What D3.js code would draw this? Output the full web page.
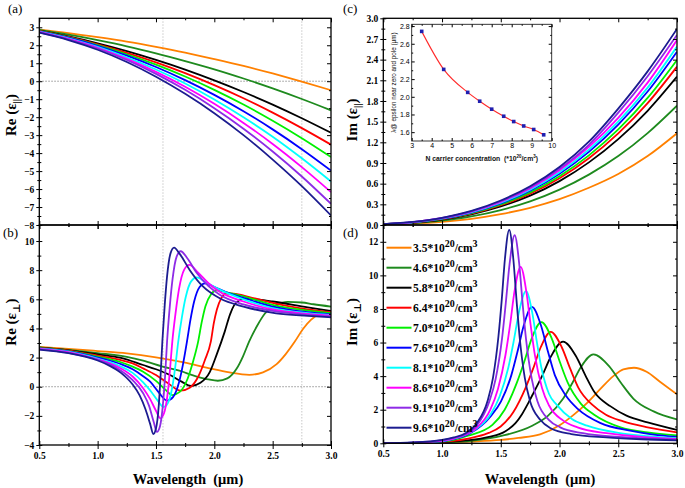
<!DOCTYPE html>
<html><head><meta charset="utf-8">
<script src="https://cdn.jsdelivr.net/npm/d3@7"></script>
<style>body{margin:0;background:#fff}svg{display:block}
.serif{font-family:"Liberation Serif","Times New Roman","DejaVu Serif",serif}
.sans{font-family:"Liberation Sans",Arial,"DejaVu Sans",sans-serif}</style>
</head><body><svg id="chart" width="685" height="488"></svg>
<script>
// ---------------- DATA ----------------
const concentrations = ["3.5","4.6","5.8","6.4","7.0","7.6","8.1","8.6","9.1","9.6"];
const seriesColors = ["#FF8000","#1E8A1E","#000000","#FF0000","#00F000","#0000FF","#00FFFF","#FF00FF","#8E2BE6","#1C1C90"];
const wavelengthTicks = [0.5,1.0,1.5,2.0,2.5,3.0];
const wavelengthMinor = [0.75,1.25,1.75,2.25,2.75];
const ticksA = [-8,-7,-6,-5,-4,-3,-2,-1,0,1,2,3];
const ticksB = [-4,-2,0,2,4,6,8,10];
const ticksC = [0.0,0.3,0.6,0.9,1.2,1.5,1.8,2.1,2.4,2.7,3.0];
const ticksD = [0,2,4,6,8,10,12];
const markerWavelengths = [1.56, 2.75];

// panel (a) and (c): common wavelength grid
const lambdaGrid = [0.5,0.75,1.0,1.25,1.5,1.75,2.0,2.25,2.5,2.75,3.0];
const reParallel = [
 [2.87,2.68,2.45,2.20,1.91,1.59,1.23,0.85,0.43,-0.02,-0.50],
 [2.85,2.59,2.28,1.94,1.55,1.12,0.66,0.15,-0.40,-0.99,-1.62],
 [2.82,2.49,2.11,1.68,1.19,0.65,0.05,-0.60,-1.30,-2.06,-2.87],
 [2.80,2.46,2.05,1.58,1.05,0.45,-0.22,-0.95,-1.75,-2.61,-3.53],
 [2.79,2.44,2.01,1.50,0.92,0.26,-0.48,-1.30,-2.20,-3.17,-4.22],
 [2.77,2.42,1.97,1.42,0.79,0.06,-0.76,-1.67,-2.68,-3.78,-4.97],
 [2.76,2.39,1.91,1.33,0.65,-0.13,-1.02,-2.01,-3.09,-4.29,-5.58],
 [2.74,2.35,1.86,1.24,0.52,-0.31,-1.26,-2.32,-3.49,-4.78,-6.17],
 [2.72,2.33,1.82,1.18,0.41,-0.48,-1.50,-2.64,-3.91,-5.30,-6.82],
 [2.70,2.29,1.75,1.07,0.25,-0.70,-1.78,-3.00,-4.36,-5.84,-7.47]
];
const imParallel = [
 [0.006,0.020,0.046,0.090,0.158,0.250,0.375,0.540,0.740,1.000,1.331],
 [0.008,0.027,0.064,0.125,0.217,0.343,0.513,0.731,1.000,1.334,1.732],
 [0.010,0.034,0.080,0.155,0.269,0.426,0.637,0.909,1.247,1.658,2.153],
 [0.011,0.036,0.085,0.165,0.287,0.455,0.680,0.970,1.331,1.769,2.298],
 [0.011,0.037,0.089,0.172,0.299,0.474,0.709,1.011,1.387,1.844,2.395],
 [0.012,0.039,0.093,0.181,0.315,0.498,0.745,1.062,1.457,1.937,2.516],
 [0.012,0.040,0.096,0.186,0.324,0.513,0.767,1.093,1.500,1.994,2.590],
 [0.012,0.042,0.099,0.193,0.336,0.532,0.795,1.133,1.555,2.067,2.685],
 [0.013,0.043,0.102,0.199,0.345,0.546,0.816,1.164,1.630,2.160,2.758],
 [0.013,0.044,0.105,0.205,0.356,0.563,0.842,1.210,1.690,2.230,2.845]
];
// panel (b): [wavelength, Re(eps_perp)]
const rePerp = [
 [[0.5,2.73],[0.75,2.6],[1.0,2.45],[1.25,2.29],[1.5,2.02],[1.75,1.65],[1.95,1.28],[2.13,0.98],[2.3,0.82],[2.417,0.99],[2.534,1.55],[2.612,2.24],[2.69,3.1],[2.76,3.96],[2.83,4.6],[2.935,5.05],[3.0,5.12]],
 [[0.5,2.7],[0.75,2.53],[1.0,2.31],[1.25,2.05],[1.39,1.79],[1.55,1.4],[1.7,1.1],[1.85,0.7],[1.95,0.5],[2.03,0.41],[2.111,0.57],[2.192,1.25],[2.246,2.09],[2.3,3.13],[2.366,4.17],[2.432,5.01],[2.531,5.6],[2.63,5.82],[2.75,5.78],[2.85,5.66],[3.0,5.5]],
 [[0.5,2.68],[0.75,2.5],[1.0,2.22],[1.2,1.98],[1.39,1.49],[1.5,1.2],[1.62,0.8],[1.72,0.35],[1.8,0.05],[1.881,0.27],[1.962,1.02],[2.02,2.2],[2.09,3.8],[2.134,4.95],[2.17,5.6],[2.22,5.95],[2.28,6.05],[2.385,5.98],[2.5,5.85],[2.8,5.45],[3.0,5.2]],
 [[0.5,2.66],[0.75,2.48],[1.0,2.13],[1.2,1.83],[1.3,1.6],[1.39,1.26],[1.5,0.8],[1.6,0.25],[1.712,-0.27],[1.789,-0.07],[1.867,0.77],[1.918,1.8],[1.97,3.09],[1.996,4.38],[2.022,5.3],[2.061,6.1],[2.1,6.4],[2.165,6.38],[2.3,6.15],[2.5,5.75],[2.8,5.3],[3.0,5.12]],
 [[0.5,2.65],[0.75,2.45],[1.0,2.07],[1.2,1.68],[1.3,1.38],[1.39,1.03],[1.5,0.4],[1.58,-0.2],[1.637,-0.57],[1.704,-0.35],[1.771,0.55],[1.815,1.65],[1.86,3.04],[1.892,4.43],[1.924,5.53],[1.972,6.35],[2.02,6.62],[2.1,6.5],[2.25,6.2],[2.5,5.62],[2.8,5.22],[3.0,5.05]],
 [[0.5,2.63],[0.75,2.42],[1.0,2.0],[1.1,1.8],[1.2,1.55],[1.3,1.2],[1.39,0.72],[1.45,0.35],[1.52,-0.35],[1.595,-0.95],[1.646,-0.71],[1.697,0.29],[1.731,1.52],[1.765,3.07],[1.796,4.62],[1.827,5.85],[1.874,6.85],[1.92,7.1],[1.998,6.85],[2.1,6.5],[2.25,6.1],[2.5,5.5],[2.8,5.12],[3.0,4.97]],
 [[0.5,2.62],[0.75,2.4],[1.0,1.93],[1.1,1.7],[1.2,1.38],[1.3,0.95],[1.39,0.3],[1.45,-0.25],[1.51,-0.9],[1.565,-1.4],[1.602,-1.13],[1.64,-0.02],[1.665,1.34],[1.69,3.05],[1.722,4.76],[1.754,6.12],[1.801,7.23],[1.849,7.5],[1.93,7.15],[2.05,6.65],[2.25,6.0],[2.5,5.4],[2.8,5.05],[3.0,4.92]],
 [[0.5,2.6],[0.75,2.37],[1.0,1.88],[1.1,1.62],[1.2,1.25],[1.3,0.7],[1.39,-0.1],[1.45,-0.85],[1.5,-1.65],[1.537,-2.17],[1.568,-1.84],[1.599,-0.53],[1.619,1.08],[1.64,3.1],[1.669,5.12],[1.698,6.73],[1.742,8.04],[1.786,8.36],[1.859,7.85],[1.95,7.1],[2.05,6.5],[2.25,5.85],[2.5,5.3],[2.8,5.0],[3.0,4.87]],
 [[0.5,2.57],[0.75,2.33],[1.0,1.85],[1.1,1.55],[1.2,1.1],[1.3,0.45],[1.39,-0.45],[1.44,-1.3],[1.48,-2.4],[1.508,-3.1],[1.534,-2.73],[1.56,-1.18],[1.578,0.72],[1.595,3.1],[1.618,5.48],[1.642,7.38],[1.677,8.93],[1.712,9.3],[1.77,8.8],[1.85,7.8],[1.95,6.9],[2.05,6.3],[2.25,5.65],[2.5,5.2],[2.8,4.93],[3.0,4.82]],
 [[0.5,2.55],[0.75,2.3],[1.0,1.8],[1.1,1.45],[1.2,0.95],[1.3,0.15],[1.36,-0.6],[1.41,-1.55],[1.45,-2.55],[1.477,-3.25],[1.5,-2.87],[1.524,-1.27],[1.539,0.69],[1.555,3.15],[1.575,5.61],[1.595,7.57],[1.625,9.17],[1.655,9.55],[1.705,9.1],[1.79,8.0],[1.9,6.9],[2.05,6.05],[2.25,5.5],[2.53,5.04],[2.8,4.86],[3.0,4.76]]
];
// panel (d): [wavelength, Im(eps_perp)]
const imPerp = [
 [[0.5,0.01],[0.75,0.01],[1.0,0.04],[1.25,0.1],[1.5,0.2],[1.65,0.32],[1.834,0.53],[2.004,1.09],[2.117,1.68],[2.231,2.38],[2.344,3.21],[2.458,4.0],[2.543,4.4],[2.634,4.5],[2.741,4.26],[2.855,3.67],[3.0,2.91]],
 [[0.5,0.01],[0.75,0.015],[1.0,0.05],[1.25,0.15],[1.514,0.45],[1.772,1.06],[1.901,1.63],[2.03,2.65],[2.107,3.56],[2.185,4.57],[2.288,5.3],[2.425,4.57],[2.527,3.56],[2.63,2.65],[2.801,1.9],[3.0,1.42]],
 [[0.5,0.01],[0.75,0.02],[1.0,0.07],[1.2,0.17],[1.4,0.38],[1.54,0.72],[1.625,1.2],[1.682,1.75],[1.738,2.45],[1.78,3.02],[1.855,4.06],[1.93,5.21],[2.03,6.05],[2.138,5.21],[2.219,4.06],[2.3,3.02],[2.435,2.2],[2.57,1.65],[2.75,1.25],[3.0,0.8]],
 [[0.5,0.01],[0.75,0.02],[1.0,0.08],[1.286,0.38],[1.398,0.62],[1.499,1.0],[1.606,1.85],[1.712,3.32],[1.776,4.46],[1.84,5.72],[1.925,6.64],[2.019,5.72],[2.09,4.46],[2.16,3.32],[2.278,2.3],[2.395,1.7],[2.543,1.3],[2.75,0.95],[3.0,0.65]],
 [[0.5,0.01],[0.75,0.025],[1.0,0.1],[1.221,0.45],[1.429,1.1],[1.533,2.0],[1.637,3.61],[1.699,4.84],[1.762,6.22],[1.845,7.22],[1.935,6.22],[2.003,4.84],[2.07,3.61],[2.183,2.35],[2.295,1.7],[2.52,0.95],[2.75,0.65],[3.0,0.47]],
 [[0.5,0.01],[0.75,0.03],[1.0,0.12],[1.065,0.2],[1.24,0.6],[1.415,1.62],[1.502,2.5],[1.59,4.06],[1.642,5.45],[1.695,7.0],[1.765,8.12],[1.843,7.0],[1.902,5.45],[1.96,4.06],[2.058,2.8],[2.155,2.05],[2.35,1.2],[2.6,0.75],[2.8,0.52],[3.0,0.38]],
 [[0.5,0.01],[0.75,0.035],[1.0,0.13],[1.115,0.3],[1.265,0.75],[1.415,1.75],[1.49,2.79],[1.565,4.53],[1.61,6.08],[1.655,7.81],[1.715,9.06],[1.767,7.81],[1.806,6.08],[1.845,4.53],[1.91,2.95],[1.975,2.3],[2.105,1.45],[2.235,1.05],[2.5,0.62],[2.75,0.42],[3.0,0.3]],
 [[0.5,0.01],[0.75,0.04],[1.0,0.15],[1.153,0.4],[1.282,0.85],[1.411,2.0],[1.476,3.24],[1.54,5.26],[1.579,7.05],[1.617,9.06],[1.669,10.51],[1.717,9.06],[1.754,7.05],[1.79,5.26],[1.851,3.3],[1.911,2.25],[2.032,1.35],[2.153,0.95],[2.4,0.6],[2.7,0.38],[3.0,0.26]],
 [[0.5,0.01],[0.75,0.045],[1.0,0.17],[1.1,0.32],[1.186,0.5],[1.294,1.05],[1.402,2.48],[1.456,3.82],[1.51,6.2],[1.542,8.31],[1.575,10.68],[1.618,12.39],[1.657,10.68],[1.686,8.31],[1.715,6.2],[1.764,3.82],[1.812,2.5],[1.909,1.4],[2.006,0.95],[2.2,0.6],[2.5,0.38],[2.75,0.28],[3.0,0.21]],
 [[0.5,0.01],[0.75,0.05],[1.0,0.2],[1.1,0.35],[1.204,0.62],[1.296,1.2],[1.388,2.54],[1.434,3.91],[1.48,6.36],[1.508,8.53],[1.535,10.96],[1.572,12.71],[1.607,10.96],[1.634,8.53],[1.66,6.36],[1.704,3.91],[1.748,2.54],[1.836,1.4],[1.924,0.9],[2.1,0.55],[2.4,0.35],[2.7,0.24],[3.0,0.18]]
];
// inset
const insetN = [3.5,4.6,5.8,6.4,7.0,7.6,8.1,8.6,9.1,9.6];
const insetLambda = [2.74,2.31,2.05,1.95,1.86,1.78,1.72,1.67,1.63,1.57];
const insetXTicks = [3,4,5,6,7,8,9,10];
const insetYTicks = [1.6,1.8,2.0,2.2,2.4,2.6,2.8];

// ---------------- DRAWING ----------------
const svg = d3.select("#chart");
const defs = svg.append("defs");

function styleAxis(sel, cls, size, weight){
  sel.select(".domain").remove();
  sel.attr("font-family",null).attr("font-size",null);
  sel.selectAll("line").attr("stroke","#000").attr("stroke-width",1);
  sel.selectAll("text").attr("class",cls).style("font-size",size+"px")
     .style("font-weight",weight).attr("fill","#000");
  return sel;
}
function axis(g, fn, scale, tx, ty, values, size, fmt, cls, fs, fw, pad){
  const a = fn(scale).tickValues(values).tickSize(size).tickSizeOuter(0).tickPadding(pad||2);
  a.tickFormat(fmt || (()=>""));
  return styleAxis(g.append("g").attr("transform",`translate(${tx},${ty})`).call(a), cls||"serif", fs||9.5, fw||"bold");
}
function mids(arr){ return d3.pairs(arr).map(p=>(p[0]+p[1])/2); }

function panel(cfg){
  const x = d3.scaleLinear().domain([0.5,3.0]).range([cfg.x0,cfg.x1]);
  const y = d3.scaleLinear().domain(cfg.yDomain).range([cfg.y1,cfg.y0]);
  const g = svg.append("g");
  const cid = "clip_"+cfg.id;
  defs.append("clipPath").attr("id",cid).append("rect")
    .attr("x",cfg.x0).attr("y",cfg.y0).attr("width",cfg.x1-cfg.x0).attr("height",cfg.y1-cfg.y0);
  const plot = g.append("g").attr("clip-path",`url(#${cid})`);
  if(cfg.refs){
    markerWavelengths.forEach(w=>{
      plot.append("line").attr("x1",x(w)).attr("x2",x(w)).attr("y1",cfg.y0).attr("y2",cfg.y1)
        .attr("stroke","#c8c8c8").attr("stroke-width",1).attr("stroke-dasharray","1.5,1.5");
    });
    plot.append("line").attr("x1",cfg.x0).attr("x2",cfg.x1).attr("y1",y(0)).attr("y2",y(0))
      .attr("stroke","#888").attr("stroke-width",0.9).attr("stroke-dasharray","1.5,1.5");
  }
  const line = d3.line().x(d=>x(d[0])).y(d=>y(d[1])).curve(d3.curveMonotoneX);
  cfg.series.forEach((s,i)=>{
    plot.append("path").datum(s).attr("d",line).attr("fill","none")
      .attr("stroke",seriesColors[i]).attr("stroke-width",1.8).attr("stroke-linejoin","round");
  });
  g.append("rect").attr("x",cfg.x0).attr("y",cfg.y0).attr("width",cfg.x1-cfg.x0).attr("height",cfg.y1-cfg.y0)
    .attr("fill","none").attr("stroke","#000").attr("stroke-width",1.3);
  axis(g, d3.axisBottom, x, 0, cfg.y1, wavelengthTicks, 4, cfg.xLabels ? d3.format(".1f") : null, "serif", 9.5, "bold", 3);
  axis(g, d3.axisTop, x, 0, cfg.y1, wavelengthTicks, 4);
  axis(g, d3.axisBottom, x, 0, cfg.y1, wavelengthMinor, 2);
  axis(g, d3.axisTop, x, 0, cfg.y1, wavelengthMinor, 2);
  axis(g, d3.axisBottom, x, 0, cfg.y0, wavelengthTicks, 4);
  axis(g, d3.axisBottom, x, 0, cfg.y0, wavelengthMinor, 2);
  axis(g, d3.axisLeft, y, cfg.x0, 0, cfg.yTicks, 3, cfg.yFmt, "serif", 9.5, "bold", 2);
  axis(g, d3.axisRight, y, cfg.x0, 0, cfg.yTicks, 3);
  axis(g, d3.axisLeft, y, cfg.x0, 0, mids(cfg.yTicks), 2);
  axis(g, d3.axisRight, y, cfg.x0, 0, mids(cfg.yTicks), 2);
  axis(g, d3.axisLeft, y, cfg.x1, 0, cfg.yTicks, 4);
  axis(g, d3.axisLeft, y, cfg.x1, 0, mids(cfg.yTicks), 2);
  const t = svg.append("text").attr("class","serif").attr("transform",`translate(${cfg.titleX},${cfg.titleY}) rotate(-90)`)
    .attr("text-anchor","middle").style("font-weight","bold").style("font-size","15px");
  t.append("tspan").text(cfg.title[0]+" (ε");
  t.append("tspan").style("font-size","10px").attr("dy",4).text(cfg.title[1]);
  t.append("tspan").attr("dy",-4).text(")");
  svg.append("text").attr("class","serif").attr("x",cfg.letterX).attr("y",cfg.letterY)
    .style("font-size","13px").text(cfg.letter);
  return {x,y,g};
}

panel({id:"a",x0:39.3,x1:331,y0:18.3,y1:225,yDomain:[-8,3.5],yTicks:ticksA,yFmt:d3.format("d"),
  series:reParallel.map(r=>lambdaGrid.map((l,i)=>[l,r[i]])),refs:true,xLabels:false,
  title:["Re","||"],titleX:16,titleY:115,letter:"(a)",letterX:8,letterY:13});
panel({id:"b",x0:39.3,x1:331,y0:225,y1:445,yDomain:[-4,11.1],yTicks:ticksB,yFmt:d3.format("d"),
  series:rePerp,refs:true,xLabels:true,
  title:["Re","⊥"],titleX:16,titleY:322,letter:"(b)",letterX:3,letterY:237});
panel({id:"c",x0:383.3,x1:677,y0:18.3,y1:225,yDomain:[0,3],yTicks:ticksC,yFmt:d3.format(".1f"),
  series:imParallel.map(r=>lambdaGrid.map((l,i)=>[l,r[i]])),refs:false,xLabels:false,
  title:["Im","||"],titleX:357,titleY:120,letter:"(c)",letterX:343,letterY:13});
panel({id:"d",x0:383.3,x1:677,y0:225,y1:443.3,yDomain:[0,13],yTicks:ticksD,yFmt:d3.format("d"),
  series:imPerp,refs:false,xLabels:true,
  title:["Im","⊥"],titleX:357,titleY:322,letter:"(d)",letterX:343,letterY:237});

[[188,484],[540,484]].forEach(p=>{
  svg.append("text").attr("class","serif").attr("x",p[0]).attr("y",p[1]).attr("text-anchor","middle")
    .style("font-weight","bold").style("font-size","14.5px").style("white-space","pre")
    .text("Wavelength  (μm)");
});

concentrations.forEach((c,i)=>{
  const yy = 247.7 + i*20;
  svg.append("line").attr("x1",386.5).attr("x2",411.5).attr("y1",yy).attr("y2",yy)
    .attr("stroke",seriesColors[i]).attr("stroke-width",2);
  const t = svg.append("text").attr("class","serif").attr("x",413).attr("y",yy+4)
    .style("font-weight","bold").style("font-size","11.5px");
  t.append("tspan").text(c+"*10");
  t.append("tspan").style("font-size","10px").attr("dy",-4.5).text("20");
  t.append("tspan").attr("dy",4.5).text("/cm");
  t.append("tspan").style("font-size","10px").attr("dy",-4.5).text("3");
});

(function(){
  const x0=411.7,x1=551.7,y0=24.3,y1=141;
  const ix = d3.scaleLinear().domain([3,10]).range([x0,x1]);
  const iy = d3.scaleLinear().domain([1.5,2.82]).range([y1,y0]);
  const g = svg.append("g");
  g.append("rect").attr("x",x0).attr("y",y0).attr("width",x1-x0).attr("height",y1-y0)
    .attr("fill","#fff").attr("stroke","#222").attr("stroke-width",0.9);
  const xm = d3.range(3.5,10,1), ym = [1.7,1.9,2.1,2.3,2.5,2.7];
  axis(g,d3.axisBottom,ix,0,y1,insetXTicks,-3,d3.format("d"),"sans",7,"normal",2);
  axis(g,d3.axisBottom,ix,0,y1,xm,-1.5);
  axis(g,d3.axisTop,ix,0,y0,insetXTicks,-3);
  axis(g,d3.axisTop,ix,0,y0,xm,-1.5);
  axis(g,d3.axisLeft,iy,x0,0,insetYTicks,-3,d3.format(".1f"),"sans",7,"normal",2);
  axis(g,d3.axisLeft,iy,x0,0,ym,-1.5);
  axis(g,d3.axisRight,iy,x1,0,insetYTicks,-3);
  axis(g,d3.axisRight,iy,x1,0,ym,-1.5);
  const pts = insetN.map((n,i)=>[n,insetLambda[i]]);
  g.append("path").datum(pts).attr("fill","none").attr("stroke","#FF2A2A").attr("stroke-width",1.1)
    .attr("d",d3.line().x(d=>ix(d[0])).y(d=>iy(d[1])).curve(d3.curveMonotoneX));
  g.selectAll("rect.pt").data(pts).enter().append("rect").attr("class","pt")
    .attr("x",d=>ix(d[0])-1.8).attr("y",d=>iy(d[1])-1.8).attr("width",3.6).attr("height",3.6)
    .attr("fill","#1F1FB0");
  g.append("text").attr("class","sans").attr("transform",`translate(396,${(y0+y1)/2}) rotate(-90)`)
    .attr("text-anchor","middle").style("font-size","6.3px").attr("fill","#111")
    .text("λ@ epsilon near zero and pole (μm)");
  const xl = g.append("text").attr("class","sans").attr("x",(x0+x1)/2).attr("y",161).attr("text-anchor","middle")
    .style("font-size","6.8px").style("font-weight","bold").style("white-space","pre").attr("fill","#111");
  xl.append("tspan").text("N carrier concentration  (*10");
  xl.append("tspan").style("font-size","4.5px").attr("dy",-3).text("20");
  xl.append("tspan").attr("dy",3).text("/cm");
  xl.append("tspan").style("font-size","4.5px").attr("dy",-3).text("3");
  xl.append("tspan").attr("dy",3).text(")");
})();
</script></body></html>
